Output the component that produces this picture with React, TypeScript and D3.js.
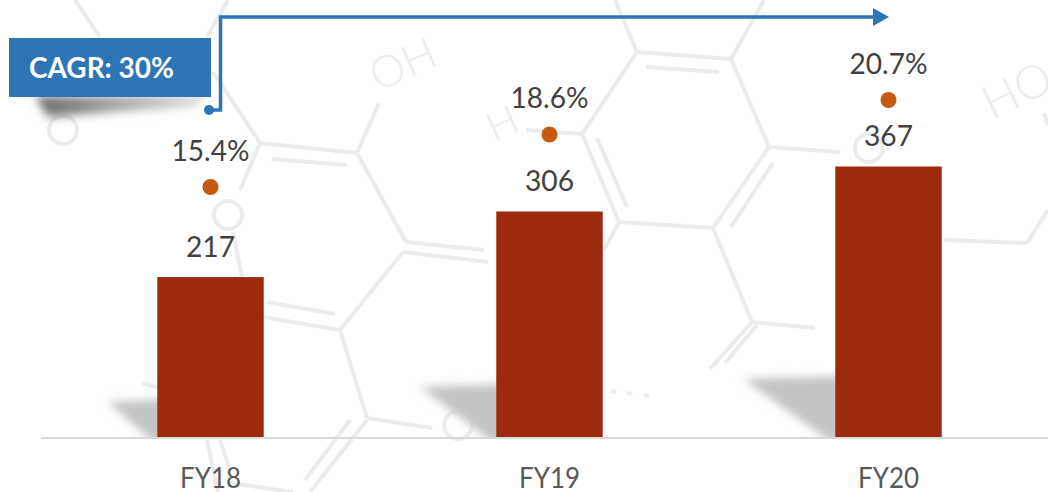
import React from "react";
import * as d3 from "d3";

const categories = ["FY18", "FY19", "FY20"];
const revenue = [217, 306, 367];
const margin = [15.4, 18.6, 20.7];
const marginLabels = ["15.4%", "18.6%", "20.7%"];
const cagrLabel = "CAGR: 30%";

const WIDTH = 1048;
const HEIGHT = 492;
const FONT = "Lato, 'Open Sans', sans-serif";

// Faint molecular-structure watermark behind the chart.
const bonds: number[][] = [
  [75, 0, 100, 37], [228, 0, 207, 37], [213, 72, 260, 143], [260, 143, 357, 153],
  [272, 159, 347, 165], [260, 143, 240, 190], [80, 100, 77, 110],
  [379, 103, 357, 153], [357, 153, 406, 242], [406, 242, 484, 250], [403, 252, 488, 262],
  [526, 130, 582, 134], [582, 134, 637, 52], [637, 52, 615, 0], [637, 52, 731, 59],
  [646, 67, 719, 72], [731, 59, 764, 0], [731, 59, 769, 147], [769, 147, 840, 152],
  [769, 147, 713, 228], [773, 163, 731, 227], [713, 228, 619, 222], [582, 134, 619, 222],
  [597, 138, 627, 207], [619, 222, 604, 250], [713, 228, 752, 322],
  [752, 322, 815, 328], [752, 322, 710, 369], [757, 325, 725, 363],
  [944, 240, 1027, 243], [1027, 243, 1048, 210], [1044, 113, 1048, 125],
  [267, 302, 335, 314], [263, 317, 340, 330], [340, 330, 403, 252],
  [340, 330, 367, 418], [367, 418, 432, 428], [478, 422, 497, 412],
  [367, 420, 310, 492], [350, 420, 305, 480], [233, 232, 242, 277],
  [207, 440, 218, 492], [220, 440, 230, 470], [230, 483, 293, 492], [142, 383, 157, 387],
  [611, 391, 616, 392], [627, 393, 632, 394], [644, 395, 649, 396],
];
const atoms: number[][] = [[63, 130], [228, 215], [869, 148], [458, 425]];
const watermarkText: [string, number, number, number, number][] = [
  ["OH", 378, 92, -24, 44],
  ["H", 494, 142, -24, 40],
  ["HO", 992, 120, -26, 46],
];

const x = d3
  .scaleBand<string>()
  .domain(categories)
  .range([41, 1058])
  .paddingInner(0.686)
  .paddingOuter(0.343);
const y = d3.scaleLinear().domain([0, 367]).range([437, 166.5]);
const yMargin = d3.scaleLinear().domain([15.4, 20.7]).range([187, 100]);

export default function App() {
  const bw = x.bandwidth();
  return (
    <svg
      width={WIDTH}
      height={HEIGHT}
      viewBox={`0 0 ${WIDTH} ${HEIGHT}`}
      style={{ position: "absolute", left: 0, top: 0, background: "#fff", fontFamily: FONT }}
    >
      <defs>
        <filter id="soft" x="-30%" y="-30%" width="160%" height="160%">
          <feGaussianBlur stdDeviation="4" />
        </filter>
        <filter id="softer" x="-30%" y="-60%" width="160%" height="220%">
          <feGaussianBlur stdDeviation="5" />
        </filter>
        <linearGradient id="boxShadow" x1="0" x2="1" y1="0" y2="0">
          <stop offset="0" stopColor="#6a6a6a" />
          <stop offset="0.5" stopColor="#a8a8a8" />
          <stop offset="1" stopColor="#dadada" />
        </linearGradient>
        <clipPath id="aboveAxis">
          <rect x={0} y={0} width={WIDTH} height={437} />
        </clipPath>
      </defs>

      <g stroke="#ececec" strokeWidth={4} fill="none">
        {bonds.map((b, i) => (
          <line key={i} x1={b[0]} y1={b[1]} x2={b[2]} y2={b[3]} />
        ))}
        {atoms.map((a, i) => (
          <circle key={i} cx={a[0]} cy={a[1]} r={14} />
        ))}
      </g>
      {watermarkText.map(([t, tx, ty, rot, fs]) => (
        <text
          key={t}
          transform={`translate(${tx},${ty}) rotate(${rot})`}
          fontSize={fs}
          fill="#ececec"
          fontWeight={300}
        >
          {t}
        </text>
      ))}

      {/* cast shadows */}
      <g clipPath="url(#aboveAxis)">
        {categories.map((c, i) => {
          const left = x(c)!;
          const reach = [50, 76, 92][i];
          const rise = [38, 53, 61][i];
          return (
            <path
              key={c}
              d={`M${left - reach},${y(0) - rise + 3}L${left + 10},${y(0) - rise}L${left + 10},${y(0) + 8}L${left},${y(0) + 8}Z`}
              fill="#c4c4c4"
              filter="url(#soft)"
            />
          );
        })}
      </g>

      <line x1={41} x2={WIDTH} y1={438} y2={438} stroke="#d9d9d9" strokeWidth={2} />

      {categories.map((c, i) => (
        <g key={c}>
          <rect x={x(c)} y={y(revenue[i])} width={bw} height={y(0) - y(revenue[i])} fill="#9c2a0e" />
          <text
            x={x(c)! + bw / 2}
            y={y(revenue[i]) - 20.5}
            textAnchor="middle"
            fontSize={28}
            fill="#404040"
            textLength={49}
            lengthAdjust="spacingAndGlyphs"
          >
            {revenue[i]}
          </text>
          <circle cx={x(c)! + bw / 2} cy={yMargin(margin[i])} r={8} fill="#c55a11" />
          <text
            x={x(c)! + bw / 2}
            y={yMargin(margin[i]) - 26.5}
            textAnchor="middle"
            fontSize={28}
            fill="#404040"
            textLength={78}
            lengthAdjust="spacingAndGlyphs"
          >
            {marginLabels[i]}
          </text>
          <text
            x={x(c)! + bw / 2}
            y={487.5}
            textAnchor="middle"
            fontSize={28}
            fill="#595959"
            textLength={61}
            lengthAdjust="spacingAndGlyphs"
          >
            {c}
          </text>
        </g>
      ))}

      {/* CAGR callout */}
      <path d="M35,96L206,96L196,106L48,117Z" fill="url(#boxShadow)" filter="url(#softer)" />
      <rect x={9} y={38} width={202} height={59} fill="#2e75b6" />
      <text
        x={29}
        y={78}
        fontSize={28}
        fontWeight={700}
        fill="#fff"
        textLength={145}
        lengthAdjust="spacingAndGlyphs"
      >
        {cagrLabel}
      </text>
      <path d="M209,110H220.5V17H875" fill="none" stroke="#2e75b6" strokeWidth={3.5} />
      <circle cx={209} cy={110} r={5} fill="#2e75b6" />
      <path d="M873,8L889,17L873,26Z" fill="#2e75b6" />
    </svg>
  );
}
